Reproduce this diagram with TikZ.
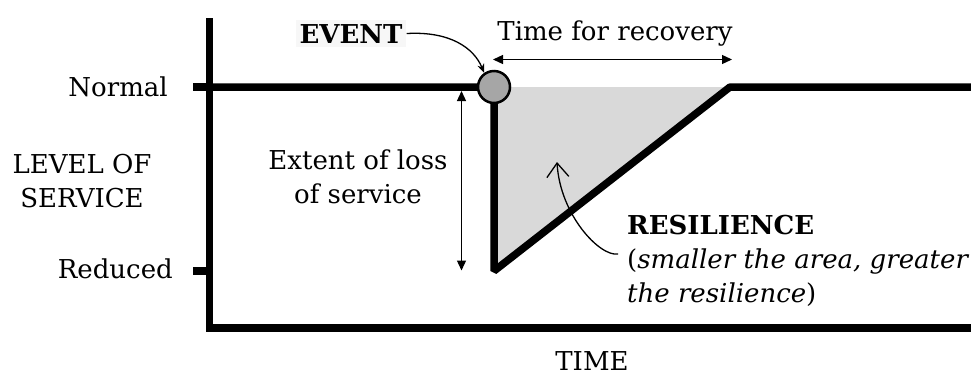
\documentclass[tikz,border=0pt]{standalone}
\usepackage{fontspec}
\setmainfont{DejaVu Serif}
\usetikzlibrary{arrows.meta}
\definecolor{areagray}{HTML}{D9D9D9}
\definecolor{circgray}{HTML}{A6A6A6}
\definecolor{boxtint}{HTML}{F7F7F7}
\begin{document}
\begin{tikzpicture}[x=1pt,y=-1pt,
  lbl/.style={inner sep=0pt, font=\fontsize{26}{34}\selectfont},
  heavy/.style={line width=7.5pt},
  thinline/.style={line width=1.3pt},
  dimarrow/.style={thinline, {Triangle[length=10pt,width=9pt]}-{Triangle[length=10pt,width=9pt]}},
]
\useasboundingbox (0,0) rectangle (971,376);
\fill[white] (0,0) rectangle (971,376);

% key points of the service curve
\coordinate (top) at (209.5,18);
\coordinate (origin) at (209.5,328);
\coordinate (xend) at (971,328);
\coordinate (nrm) at (209.5,87);
\coordinate (ntick) at (193,87);
\coordinate (rlev) at (209.5,271);
\coordinate (rtick) at (193,271);
\coordinate (ev) at (494,87);
\coordinate (low) at (494,271);
\coordinate (rec) at (730,87);
\coordinate (end) at (971,87);

% lost service area
\fill[areagray] (ev) -- (rec) -- (low) -- cycle;

% axes and level ticks
\draw[heavy, line join=miter] (top) -- (origin) -- (xend);
\draw[heavy] (ntick) -- (nrm);
\draw[heavy] (rtick) -- (rlev);

% level of service over time
\draw[heavy, line join=bevel] (nrm) -- (ev) -- (low) -- (rec) -- (end);

% disruptive event
\node[circle, draw, line width=2.5pt, fill=circgray, minimum size=32pt, inner sep=0pt] (event) at (ev) {};

% dimension arrows
\coordinate (ext1) at (461.5,91);
\coordinate (ext2) at (461.5,270.5);
\draw[dimarrow] (ext1) -- (ext2);
\coordinate (tr1) at (493,59.5);
\coordinate (tr2) at (732,59.5);
\draw[dimarrow] (tr1) -- (tr2);

% labels
\node[lbl, anchor=base east] (normal) at (168,96) {Normal};
\node[lbl, anchor=base east] (reduced) at (173,278) {Reduced};
\node[lbl, align=center] (los) at (82,181) {LEVEL OF\\SERVICE};
\node[lbl, align=center] (extent) at (358,177) {Extent of loss\\of service};
\node[lbl, anchor=base] (trec) at (615,40) {Time for recovery};
\node[lbl, anchor=base, font=\fontsize{26}{34}\selectfont\bfseries, fill=boxtint, inner sep=4pt] (evtxt) at (351,43) {EVENT};
\node[lbl, anchor=base west, font=\fontsize{26}{34}\selectfont\bfseries] (resA) at (627,234) {RESILIENCE};
\node[lbl, anchor=base west] (resB) at (627,268) {(\textit{smaller the area, greater}};
\node[lbl, anchor=base west] (resC) at (627,302) {\textit{the resilience})};
\node[lbl, anchor=base] (time) at (592,370) {TIME};

% pointers
\draw[thinline, -{Stealth[length=9pt,width=7pt]}] (evtxt.east) .. controls (450,31) and (474,48) .. (event.125);
\coordinate (resptr) at (557,162);
\draw[thinline, -{Straight Barb[length=14pt,width=22pt]}] ([xshift=-9pt,yshift=7pt]resB.west) .. controls (600,257) and (560,215) .. (resptr);
\end{tikzpicture}
\end{document}
